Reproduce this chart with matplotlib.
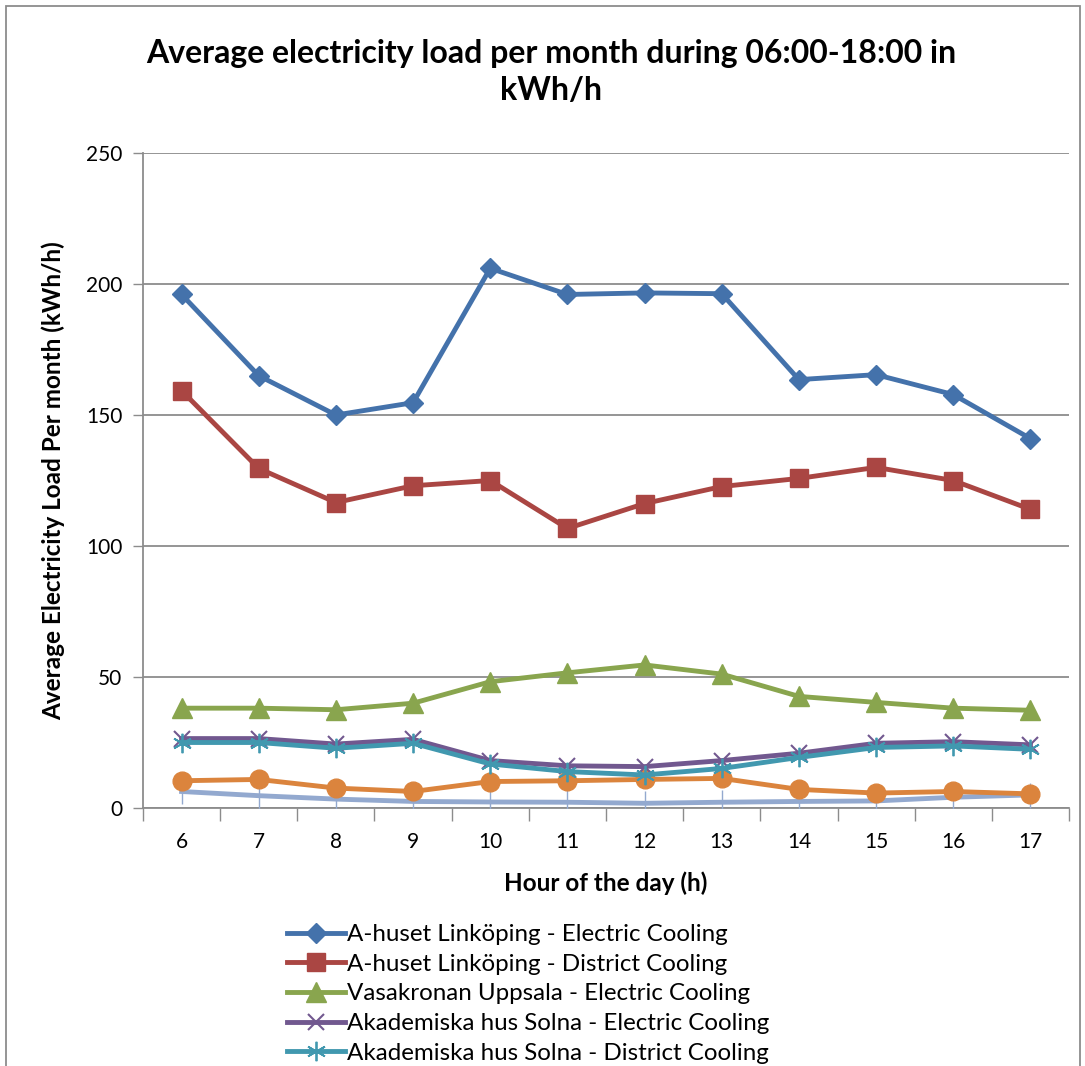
import matplotlib
matplotlib.use("Agg")
import matplotlib.pyplot as plt
from matplotlib.patches import Rectangle
import numpy as np

plt.rcParams['font.family'] = ['Lato', 'DejaVu Sans']

hours = [6, 7, 8, 9, 10, 11, 12, 13, 14, 15, 16, 17]
ahuset_electric = [196, 165, 150, 154.7, 206, 196, 196.6, 196.3, 163.5, 165.4, 157.8, 141]
ahuset_district = [159.3, 129.6, 116.6, 123, 125, 106.7, 116.2, 122.7, 125.8, 130, 125, 114]
vasakronan_electric = [38.1, 38.1, 37.5, 40, 48.2, 51.6, 54.6, 51.1, 42.6, 40.3, 38.1, 37.3]
solna_electric = [26.5, 26.5, 24.4, 26.2, 18.1, 16.1, 15.8, 18.1, 20.9, 24.7, 25.3, 24.1]
solna_district = [25.0, 25.0, 22.8, 24.7, 16.8, 13.9, 12.6, 15.1, 19.3, 23.1, 23.7, 22.4]
orange_series = [10.4, 10.9, 7.6, 6.3, 10.1, 10.4, 10.9, 11.3, 7.1, 5.7, 6.3, 5.4]
lightblue_series = [6.3, 4.7, 3.4, 2.5, 2.3, 2.2, 1.8, 2.2, 2.5, 2.7, 4.1, 5.0]

legend_labels = [
    "A-huset Linköping - Electric Cooling",
    "A-huset Linköping - District Cooling",
    "Vasakronan Uppsala - Electric Cooling",
    "Akademiska hus Solna - Electric Cooling",
    "Akademiska hus Solna - District Cooling",
]

W, H = 1085, 1066
fig = plt.figure(figsize=(W / 100, H / 100), dpi=100)
ax = fig.add_axes([143 / W, 1 - 808 / H, (1069 - 143) / W, (808 - 153) / H])

x = np.arange(len(hours))
lw = 3.5
l1, = ax.plot(x, ahuset_electric, color='#4472AB', lw=lw, marker='D', ms=10.5, label=legend_labels[0], zorder=5)
l2, = ax.plot(x, ahuset_district, color='#AA4643', lw=lw, marker='s', ms=13.5, label=legend_labels[1], zorder=5)
l3, = ax.plot(x, vasakronan_electric, color='#89A54E', lw=lw, marker='^', ms=14.5, label=legend_labels[2], zorder=5)
l4, = ax.plot(x, solna_electric, color='#71588F', lw=lw, marker='x', ms=12, mew=1.5, label=legend_labels[3], zorder=5)
l5, = ax.plot(x, solna_district, color='#4198AF', lw=lw, marker=(6, 2, 0), ms=14, mew=1.3, label=legend_labels[4], zorder=5)
ax.plot(x, orange_series, color='#DB843D', lw=lw, marker='o', ms=13.5, zorder=4)
ax.plot(x, lightblue_series, color='#93A9CF', lw=lw, marker='|', ms=18, mew=1, zorder=3)

ax.set_xlim(-0.5, len(hours) - 0.5)
ax.set_ylim(0, 250)
ax.set_yticks([0, 50, 100, 150, 200, 250])
ax.yaxis.grid(True, color='#8C8C8C', lw=1.3)
ax.set_axisbelow(True)
ax.set_xticks(x)
ax.set_xticklabels([str(h) for h in hours])
ax.set_xticks(np.arange(-0.5, len(hours), 1), minor=True)
ax.tick_params(axis='x', which='major', length=0, pad=17, labelsize=15)
ax.tick_params(axis='x', which='minor', length=9, width=1, color='#8C8C8C', direction='out')
ax.tick_params(axis='y', length=7, width=1, color='#8C8C8C', labelsize=15, pad=8)
for s in ['top', 'right']:
    ax.spines[s].set_visible(False)
for s in ['left', 'bottom']:
    ax.spines[s].set_color('#8C8C8C')
    ax.spines[s].set_linewidth(1.3)

ax.set_xlabel("Hour of the day (h)", fontsize=17.5, fontweight='bold', labelpad=14)
ax.set_ylabel("Average Electricity Load Per month (kWh/h)", fontsize=17.5, fontweight='bold', labelpad=15)

fig.text(551 / W, 1 - 72 / H, "Average electricity load per month during 06:00-18:00 in\nkWh/h",
         ha='center', va='center', fontsize=23, fontweight='bold', linespacing=1.3)

fig.legend(handles=[l1, l2, l3, l4, l5], loc='upper left', bbox_to_anchor=(287 / W, 1 - 924 / H),
           frameon=False, fontsize=17.4, handlelength=2.4, handletextpad=0.1, labelspacing=0.36,
           borderpad=0, borderaxespad=0)

fig.patches.append(Rectangle((6 / W, -0.05), (1080 - 6) / W, 1 - 6 / H + 0.05, transform=fig.transFigure,
                             fill=False, edgecolor='#8C8C8C', lw=1.3))

fig.savefig("out.png", dpi=100)
